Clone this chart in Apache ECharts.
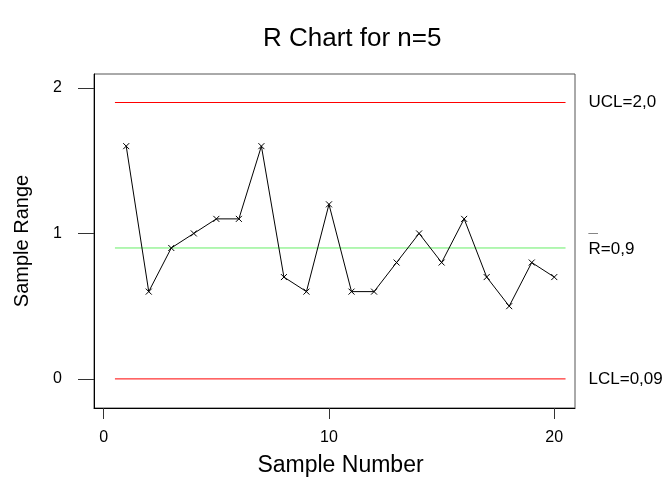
<!DOCTYPE html>
<html>
<head>
<meta charset="utf-8">
<script src="https://cdn.jsdelivr.net/npm/echarts@6/dist/echarts.min.js"></script>
<style>
  html, body { margin: 0; padding: 0; background: #fff; }
  #chart { width: 664px; height: 477px; }
</style>
</head>
<body>
<div id="chart"></div>
<script>
// sample numbers and their ranges
var samples = [1, 2, 3, 4, 5, 6, 7, 8, 9, 10, 11, 12, 13, 14, 15, 16, 17, 18, 19, 20];
var ranges = [1.6, 0.6, 0.9, 1.0, 1.1, 1.1, 1.6, 0.7, 0.6, 1.2, 0.6, 0.6, 0.8, 1.0, 0.8, 1.1, 0.7, 0.5, 0.8, 0.7];
// control limits (value where drawn, text shown)
var limitNames = ["UCL", "R", "LCL"];
var limitTexts = ["UCL=2,0", "R=0,9", "LCL=0,09"];
var limitValues = [1.9, 0.9, 0];
var limitColors = ["#ff0000", "#66ee66", "#ff0000"];
var limitSpan = [0.5, 20.5];
var xTicks = [0, 10, 20];
var yTicks = [0, 1, 2];

var font = "Liberation Sans, Arial, sans-serif";
var chart = echarts.init(document.getElementById("chart"));

var points = samples.map(function (s, i) { return [s, ranges[i]]; });

// each limit is its own short line with a label at its right end
var limitSeries = limitNames.map(function (name, i) {
  var label = {
    show: true,
    distance: 23,
    color: "#000",
    fontFamily: font,
    fontSize: 17,
    formatter: limitTexts[i]
  };
  if (i === 0) label.padding = [0, 0, 16, 0];
  if (i === 2) label.padding = [0, 0, 12, 0];
  if (i === 1) {
    // R-bar: a small bar drawn above the R
    label.formatter = "{o|\u00AF}\n{t|" + limitTexts[i] + "}";
    label.padding = [0, 0, 0, 0];
    label.rich = {
      o: { fontFamily: font, fontSize: 17, lineHeight: 2, color: "#666" },
      t: { fontFamily: font, fontSize: 17, lineHeight: 14, color: "#000" }
    };
  }
  return {
    name: name,
    type: "line",
    data: [[limitSpan[0], limitValues[i]], [limitSpan[1], limitValues[i]]],
    showSymbol: false,
    symbol: "none",
    lineStyle: { color: limitColors[i], width: 1 },
    itemStyle: { color: limitColors[i] },
    endLabel: label,
    emphasis: { disabled: true },
    silent: true,
    z: 2
  };
});

var option = {
  animation: false,
  backgroundColor: "#fff",
  title: {
    text: "R Chart for n=5",
    left: 258,
    top: 21,
    textStyle: { fontFamily: font, fontSize: 26, fontWeight: "normal", color: "#000" }
  },
  grid: {
    left: 94,
    top: 74,
    width: 481,
    height: 334,
    outerBoundsMode: "none",
    containLabel: false,
    show: true,
    borderColor: "#555",
    borderWidth: 1
  },
  xAxis: {
    type: "value",
    min: -0.43,
    max: 20.92,
    name: "Sample Number",
    nameLocation: "middle",
    nameGap: 46,
    nameTextStyle: { fontFamily: font, fontSize: 23, color: "#000", padding: [0, 0, 0, 12] },
    axisLine: { show: true, onZero: false, lineStyle: { color: "#000", width: 1 } },
    axisTick: { show: true, length: 11, customValues: xTicks, lineStyle: { color: "#333" } },
    axisLabel: { customValues: xTicks, margin: 22, fontFamily: font, fontSize: 16, color: "#000" },
    splitLine: { show: false }
  },
  yAxis: {
    type: "value",
    min: -0.2,
    max: 2.096,
    name: "Sample Range",
    nameLocation: "middle",
    nameGap: 62,
    nameTextStyle: { fontFamily: font, fontSize: 20, color: "#000" },
    axisLine: { show: true, onZero: false, lineStyle: { color: "#000", width: 1 } },
    axisTick: { show: true, length: 16, customValues: yTicks, lineStyle: { color: "#333" } },
    axisLabel: { customValues: yTicks, margin: 32, fontFamily: font, fontSize: 16, color: "#000" },
    splitLine: { show: false }
  },
  series: limitSeries.concat([
    {
      name: "Range",
      type: "line",
      data: points,
      symbol: "path://M0,0L10,10M10,0L0,10",
      symbolSize: 6,
      showSymbol: true,
      lineStyle: { color: "#000", width: 1 },
      itemStyle: { color: "#000", borderColor: "#000", borderWidth: 1 },
      emphasis: { disabled: true },
      silent: true,
      z: 3
    }
  ])
};

chart.setOption(option);
</script>
</body>
</html>
